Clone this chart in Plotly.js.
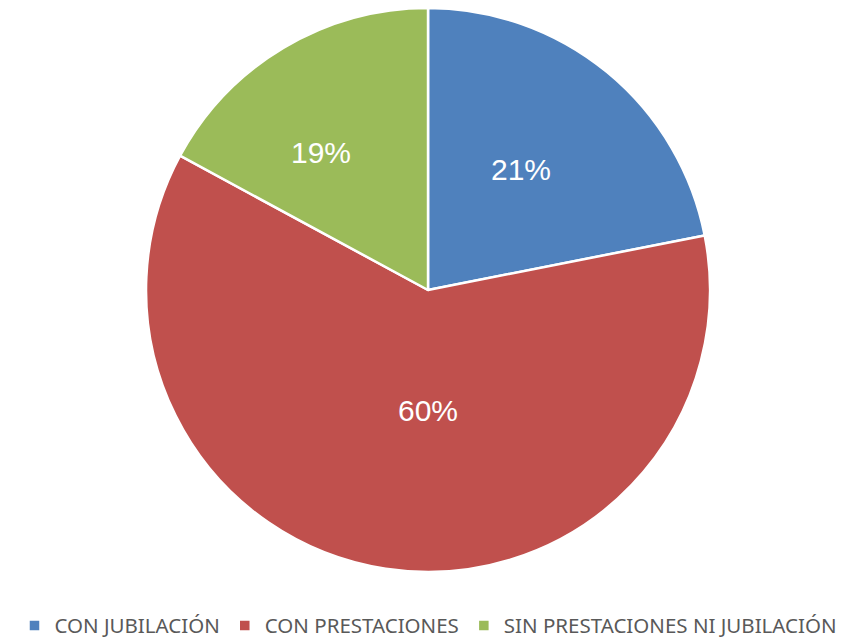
<!DOCTYPE html>
<html>
<head>
<meta charset="utf-8">
<script src="https://cdn.plot.ly/plotly-3.0.1.min.js"></script>
<style>html,body{margin:0;padding:0;background:#fff;}#chart{width:857px;height:638px;}</style>
</head>
<body>
<div id="chart"></div>
<script>
var categories = ['CON JUBILACIÓN', 'CON PRESTACIONES', 'SIN PRESTACIONES NI JUBILACIÓN'];
var shares = [21.9, 61.0, 17.1];
var dataLabels = ['21%', '60%', '19%'];
var colors = ['#4F81BD', '#C0504D', '#9BBB59'];

// data-label placement (fraction of figure, as in the reference)
var labelX = [521 / 857, 428 / 857, 321 / 857];
var labelY = [1 - 170 / 638, 1 - 410 / 638, 1 - 152 / 638];

var trace = {
  type: 'pie',
  labels: categories,
  values: shares,
  textinfo: 'none',
  sort: false,
  direction: 'clockwise',
  rotation: 0,
  marker: {colors: colors, line: {color: '#ffffff', width: 2.5}},
  domain: {x: [0.1704, 0.8285], y: [0.1034, 0.9875]},
  hoverinfo: 'label+percent'
};

var annotations = dataLabels.map(function (t, i) {
  return {
    text: t, x: labelX[i], y: labelY[i], xref: 'paper', yref: 'paper',
    xanchor: 'center', yanchor: 'middle', showarrow: false,
    font: {family: 'Liberation Sans, Arial, sans-serif', size: 30, color: '#ffffff'}
  };
});

var layout = {
  width: 857, height: 638,
  margin: {l: 0, r: 0, t: 0, b: 0, autoexpand: false},
  paper_bgcolor: '#ffffff',
  showlegend: true,
  annotations: annotations,
  legend: {
    orientation: 'h', x: 0.5, xanchor: 'center', y: -0.012, yanchor: 'bottom',
    font: {family: 'Noto Sans, sans-serif', size: 20.5, color: '#595959'},
    itemwidth: 30, traceorder: 'normal'
  }
};

Plotly.newPlot('chart', [trace], layout, {displayModeBar: false});
</script>
</body>
</html>
